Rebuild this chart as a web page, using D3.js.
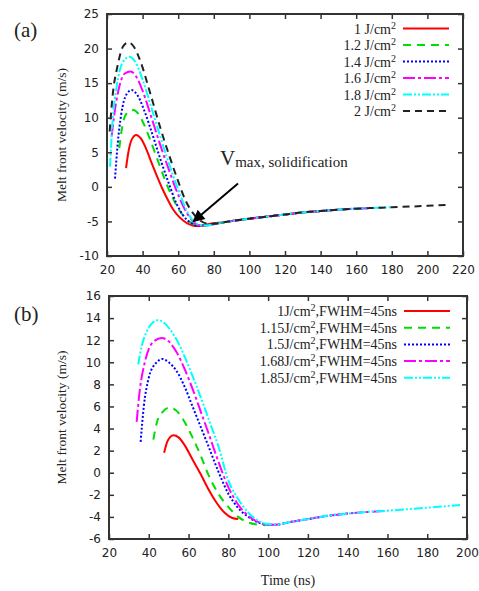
<!DOCTYPE html>
<html>
<head>
<meta charset="utf-8">
<script src="https://cdn.jsdelivr.net/npm/d3@7"></script>
<style>
  body { margin: 0; background: #fff; }
  svg { display: block; }
  .tick text { font-family: "DejaVu Sans", sans-serif; font-size: 12px; fill: #222; }
  .serif { font-family: "Liberation Serif", "Times New Roman", serif; fill: #222; }
</style>
</head>
<body>
<div id="chart"></div>
<script>
// ---- panel (a) data: time (ns), melt front velocity (m/s)
const labelsA = ["1 J/cm", "1.2 J/cm", "1.4 J/cm", "1.6 J/cm", "1.8 J/cm", "2 J/cm"];
const a10 = [[30.7,2.7],[32,5.0],[34,6.9],[36.4,7.5],[39,7.0],[42,5.5],[45,3.5],[48,1.6],[51,-0.2],[54,-1.8],[57,-3.2],[60,-4.2],[63,-4.9],[66,-5.4],[69,-5.65],[72,-5.65],[76,-5.45],[80,-5.25]];
const a12 = [[26.9,5.6],[28.5,8.6],[31,10.6],[34.8,11.1],[37.5,10.6],[40.5,9.2],[44,7.0],[48,4.2],[52,1.4],[56,-1.1],[60,-3.1],[64,-4.5],[68,-5.3],[72,-5.6],[76,-5.5],[80,-5.3]];
const a14 = [[24.5,1.2],[26,6.2],[28,10.5],[31,13.4],[33.9,14.0],[37,13.3],[41,11.0],[45,8.0],[50,4.0],[55,0.3],[59,-2.4],[63,-4.2],[67,-5.2],[71,-5.6],[75,-5.6],[80,-5.35]];
const a16 = [[22.6,7.3],[24.5,11.2],[27,14.6],[30,16.4],[33.3,16.7],[36.5,15.9],[40,13.9],[45,10.0],[50,6.0],[55,2.3],[59,-0.5],[63,-2.9],[67,-4.6],[71,-5.5],[75,-5.65],[80,-5.4]];
const a18 = [[21.7,2.9],[23,9.0],[25.5,14.6],[29,18.1],[32.5,18.8],[36,18.0],[40,15.5],[45,11.4],[50,7.2],[55,3.2],[60,-0.4],[64,-3.0],[68,-4.8],[72,-5.5],[76,-5.6],[80,-5.45]];
const a20 = [[21.5,8.0],[23,12.8],[26,17.6],[29,20.3],[32,20.9],[35,20.3],[39,18.0],[44,13.8],[50,8.5],[55,4.5],[60,0.8],[64,-1.9],[68,-3.7],[72,-4.8],[76,-5.3],[80,-5.35]];
const tailA = [[85,-5.15],[90,-4.95],[100,-4.6],[110,-4.3],[120,-4.0],[130,-3.7],[140,-3.5],[150,-3.3],[160,-3.15],[170,-3.05],[180,-2.95],[190,-2.85],[200,-2.75],[212,-2.6]];
const endA = [150, 160, 170, 170, 180, 212];
const headsA = [a10, a12, a14, a16, a18, a20];

// ---- panel (b) data
const labelsB = ["1J/cm", "1.15J/cm", "1.5J/cm", "1.68J/cm", "1.85J/cm"];
const b100 = [[47.7,1.8],[49.5,2.9],[52.4,3.4],[55,3.2],[58,2.5],[62,1.2],[66,-0.1],[70,-1.5],[74,-2.7],[78,-3.6],[82,-4.1],[85,-4.2]];
const b115 = [[42.3,3.0],[44,4.5],[47,5.5],[50.5,5.9],[54,5.6],[58,4.6],[62,3.2],[66,1.6],[70,-0.2],[75,-1.9],[80,-3.1],[85,-4.0],[90,-4.5],[95,-4.7],[99,-4.75]];
const b150 = [[35.9,2.8],[37.5,6.0],[40,8.6],[43.5,9.9],[47,10.3],[50,10.0],[54,9.2],[58,7.8],[62,6.0],[66,4.2],[70,2.4],[75,0.1],[80,-1.9],[85,-3.2],[90,-4.0],[95,-4.5],[100,-4.7]];
const b168 = [[33.9,4.6],[35.5,7.5],[38,10.0],[42,11.8],[46.5,12.2],[50,11.9],[54,10.9],[58,9.4],[62,7.6],[66,5.6],[70,3.6],[75,1.0],[80,-1.3],[85,-2.9],[90,-3.9],[95,-4.45],[100,-4.7]];
const b185 = [[34.7,9.8],[36.5,11.5],[39,12.8],[42,13.6],[44.5,13.8],[47.5,13.6],[51,12.9],[55,11.7],[59,10.1],[63,8.3],[67,6.4],[71,4.4],[75,2.4],[80,-0.7],[85,-2.4],[90,-3.6],[95,-4.35],[100,-4.65]];
const tailB = [[104,-4.7],[110,-4.5],[120,-4.2],[130,-3.9],[140,-3.7],[150,-3.55],[160,-3.44],[170,-3.3],[180,-3.17],[190,-3.02],[196.5,-2.92]];
const endB = [85, 99, 141, 168, 196.5];
const headsB = [b100, b115, b150, b168, b185];

// annotation arrow (data units of panel a): tail -> tip
const arrowA = [[93.6, 0.5], [68.5, -5.0]];

const colors = ["#ff0000", "#00dd00", "#0000ff", "#ff00ff", "#00ffff", "#222222"];
const dashes = ["none", "8,6", "2,2", "12,3,3,3", "9,2,2,2,2,2", "7,5"];

const width = 479, height = 591;
const svg = d3.select("#chart").append("svg").attr("width", width).attr("height", height);

const defs = svg.append("defs");
defs.append("marker").attr("id", "arrowhead")
  .attr("viewBox", "0 0 10 10").attr("refX", 9).attr("refY", 5)
  .attr("markerWidth", 7).attr("markerHeight", 6).attr("markerUnits", "strokeWidth")
  .attr("orient", "auto")
  .append("path").attr("d", "M0,0L10,5L0,10z").attr("fill", "#000");

function drawPanel(opt) {
  const x = d3.scaleLinear().domain(opt.xDomain).range([opt.left, opt.right]);
  const y = d3.scaleLinear().domain(opt.yDomain).range([opt.bottom, opt.top]);
  const g = svg.append("g");

  const line = d3.line().x((d) => x(d[0])).y((d) => y(d[1])).curve(d3.curveMonotoneX);

  opt.heads.forEach((h, i) => {
    const pts = h.concat(opt.tail.filter((p) => p[0] > h[h.length - 1][0] && p[0] <= opt.ends[i]));
    g.append("path")
      .datum(pts)
      .attr("d", line)
      .attr("fill", "none")
      .attr("stroke", colors[i])
      .attr("stroke-width", 2)
      .attr("stroke-dasharray", dashes[i]);
  });

  // axes, ticks inward on all four sides
  const tickFmt = (d) => d;
  g.append("g").attr("transform", `translate(0,${opt.bottom})`)
    .call(d3.axisBottom(x).tickValues(opt.xTicks).tickSize(-5).tickPadding(9).tickFormat(tickFmt));
  g.append("g").attr("transform", `translate(0,${opt.top})`)
    .call(d3.axisTop(x).tickValues(opt.xTicks).tickSize(-5).tickFormat(""));
  g.append("g").attr("transform", `translate(${opt.left},0)`)
    .call(d3.axisLeft(y).tickValues(opt.yTicks).tickSize(-5).tickPadding(8).tickFormat(tickFmt));
  g.append("g").attr("transform", `translate(${opt.right},0)`)
    .call(d3.axisRight(y).tickValues(opt.yTicks).tickSize(-5).tickFormat(""));
  g.selectAll(".domain").remove();
  g.selectAll(".tick line").attr("stroke", "#333").attr("stroke-width", 1.5);

  g.append("rect")
    .attr("x", opt.left).attr("y", opt.top)
    .attr("width", opt.right - opt.left).attr("height", opt.bottom - opt.top)
    .attr("fill", "none").attr("stroke", "#333").attr("stroke-width", 2);

  // y title
  g.append("text").attr("class", "serif")
    .attr("transform", `translate(66,${(opt.top + opt.bottom) / 2}) rotate(-90)`)
    .attr("text-anchor", "middle").attr("font-size", 13.5)
    .text("Melt front velocity (m/s)");

  // panel letter
  g.append("text").attr("class", "serif")
    .attr("x", 14).attr("y", opt.letterY).attr("font-size", 21)
    .text(opt.letter);

  // legend
  opt.labels.forEach((lab, i) => {
    const yy = opt.legendY + i * opt.legendStep;
    const t = g.append("text").attr("class", "serif")
      .attr("x", opt.legendTextX).attr("y", yy + 5)
      .attr("text-anchor", "end").attr("font-size", 14);
    t.append("tspan").text(lab);
    t.append("tspan").attr("dy", -5).attr("font-size", 10).text("2");
    if (opt.suffix) t.append("tspan").attr("dy", 5).text(opt.suffix);
    g.append("line")
      .attr("x1", opt.legendTextX + 7).attr("x2", opt.legendTextX + 53)
      .attr("y1", yy).attr("y2", yy)
      .attr("stroke", colors[i]).attr("stroke-width", 2)
      .attr("stroke-dasharray", dashes[i]);
  });

  return { x, y, g };
}

const pa = drawPanel({
  xDomain: [20, 220], yDomain: [-10, 25],
  left: 107, right: 463, top: 14, bottom: 256,
  xTicks: d3.range(20, 221, 20), yTicks: d3.range(-10, 26, 5),
  heads: headsA, tail: tailA, ends: endA,
  labels: labelsA, legendTextX: 396, legendY: 28.5, legendStep: 16.5,
  letter: "(a)", letterY: 37
});

const pb = drawPanel({
  xDomain: [20, 200], yDomain: [-6, 16],
  left: 109, right: 467, top: 296, bottom: 539,
  xTicks: d3.range(20, 201, 20), yTicks: d3.range(-6, 17, 2),
  heads: headsB, tail: tailB, ends: endB,
  labels: labelsB, suffix: ",FWHM=45ns", legendTextX: 397, legendY: 311, legendStep: 16.7,
  letter: "(b)", letterY: 321
});

// x title (bottom panel)
svg.append("text").attr("class", "serif")
  .attr("x", 288).attr("y", 585).attr("text-anchor", "middle").attr("font-size", 14)
  .text("Time (ns)");

// annotation in panel (a)
pa.g.append("line")
  .attr("x1", pa.x(arrowA[0][0])).attr("y1", pa.y(arrowA[0][1]))
  .attr("x2", pa.x(arrowA[1][0])).attr("y2", pa.y(arrowA[1][1]))
  .attr("stroke", "#000").attr("stroke-width", 2)
  .attr("marker-end", "url(#arrowhead)");

const ann = pa.g.append("text").attr("class", "serif")
  .attr("x", 220).attr("y", 165).attr("fill", "#111");
ann.append("tspan").attr("font-size", 21).text("V");
ann.append("tspan").attr("font-size", 15).attr("dy", 2).text("max, solidification");
</script>
</body>
</html>
